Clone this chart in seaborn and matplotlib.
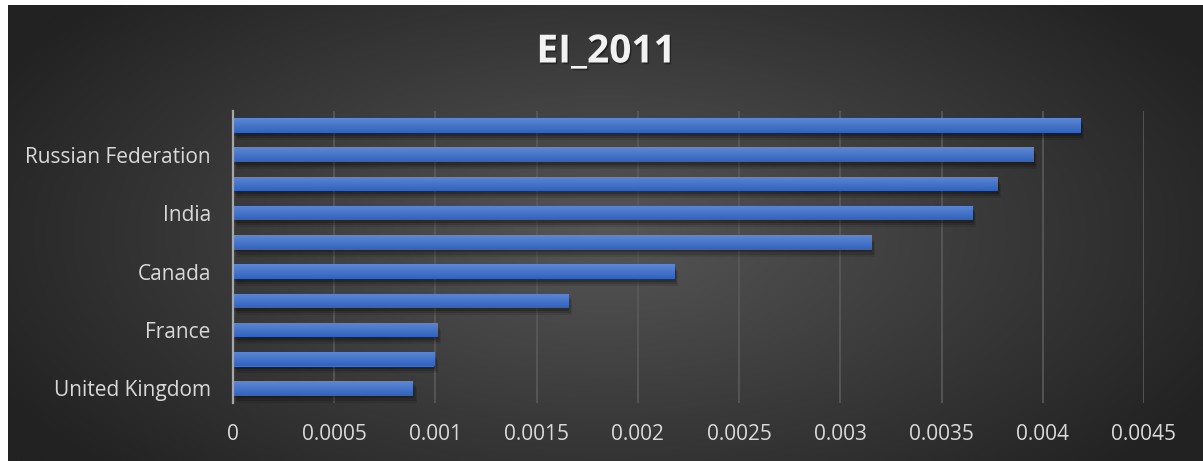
import numpy as np
import pandas as pd
import matplotlib
matplotlib.use("Agg")
import matplotlib.pyplot as plt
import matplotlib.patheffects as pe
import seaborn as sns

# Energy intensity, 2011 (top to bottom)
countries = ["China", "Russian Federation", "United States", "India", "Korea",
             "Canada", "Japan", "France", "Germany", "United Kingdom"]
ei_2011 = [0.004185, 0.003953, 0.003775, 0.003651, 0.003152,
           0.002179, 0.001655, 0.001008, 0.000993, 0.000889]
shown_labels = ["", "Russian Federation", "", "India", "",
                "Canada", "", "France", "", "United Kingdom"]
x_ticks = [0, 0.0005, 0.001, 0.0015, 0.002, 0.0025, 0.003, 0.0035, 0.004, 0.0045]
x_tick_labels = ["0", "0.0005", "0.001", "0.0015", "0.002", "0.0025",
                 "0.003", "0.0035", "0.004", "0.0045"]

df = pd.DataFrame({"country": countries, "ei": ei_2011})

sns.set_theme(style="white")
plt.rcParams["font.family"] = ["Open Sans", "DejaVu Sans"]

W, H = 1203, 461
fig = plt.figure(figsize=(W / 100, H / 100), dpi=100)
fig.patch.set_facecolor("white")

# dark radial backdrop
bg = fig.add_axes([8 / W, 0, (W - 8) / W, (H - 5) / H])
bg.set_axis_off()
yy, xx = np.mgrid[0:200, 0:500]
cx, cy = 250, 100
r = np.sqrt(((xx - cx) / 290) ** 2 + ((yy - cy) / 150) ** 2)
r = np.clip(r, 0, 1)
light = np.array([0x56, 0x56, 0x56]) / 255
dark = np.array([0x22, 0x22, 0x22]) / 255
img = light[None, None, :] * (1 - r[..., None]) + dark[None, None, :] * r[..., None]
bg.imshow(img, aspect="auto", extent=[0, 1, 0, 1], interpolation="bicubic")
bg.set_xlim(0, 1)
bg.set_ylim(0, 1)

left, right = 233, 1144
top, bottom = 111, 403
ax = fig.add_axes([left / W, (H - bottom) / H, (right - left) / W, (bottom - top) / H])
ax.patch.set_alpha(0)

sns.barplot(data=df, x="ei", y="country", orient="h", width=0.5,
            color="#4472C4", ax=ax, zorder=3, saturation=1,
            edgecolor="none", linewidth=0)

# gradient fill and soft drop shadow on each bar
grad = np.linspace(0, 1, 64)[:, None]
top_c = np.array([0x5E, 0x88, 0xD4]) / 255
bot_c = np.array([0x30, 0x62, 0xBE]) / 255
gimg = top_c[None, None, :] * (1 - grad[..., None]) + bot_c[None, None, :] * grad[..., None]
gimg = np.repeat(gimg, 2, axis=1)
for p in ax.patches:
    p.set_edgecolor("none")
    p.set_linewidth(0)
    p.set_path_effects([
        pe.SimplePatchShadow(offset=(3, -5), shadow_rgbFace="black", alpha=0.1),
        pe.SimplePatchShadow(offset=(2, -3.5), shadow_rgbFace="black", alpha=0.15),
        pe.SimplePatchShadow(offset=(1, -2), shadow_rgbFace="black", alpha=0.2),
        pe.Normal(),
    ])
    x0, y0 = p.get_x(), p.get_y()
    w, h = p.get_width(), p.get_height()
    im = ax.imshow(gimg, extent=[x0, x0 + w, y0 + h, y0], aspect="auto",
                   zorder=4, interpolation="bilinear")
    im.set_clip_path(p)

ax.set_xlim(0, 0.0045)
ax.set_ylim(9.5, -0.5)
ax.set_xticks(x_ticks)
ax.set_xticklabels(x_tick_labels)
ax.set_yticks(range(len(countries)))
ax.set_yticklabels(shown_labels)
ax.set_xlabel("")
ax.set_ylabel("")

ax.grid(axis="x", color="#5a5a5a", linewidth=1.2, zorder=0)
ax.grid(axis="y", visible=False)
for s in ["top", "right", "bottom"]:
    ax.spines[s].set_visible(False)
ax.spines["left"].set_color("#a6a6a6")
ax.spines["left"].set_linewidth(1.6)
ax.spines["left"].set_zorder(5)

ax.tick_params(axis="both", length=0, colors="#d9d9d9", labelsize=15)
ax.tick_params(axis="y", pad=16)
ax.tick_params(axis="x", pad=15)

fig.text(606 / W, 1 - 52 / H, "EI_2011", ha="center", va="center",
         fontsize=28, fontweight="bold", color="#f2f2f2",
         family=["Open Sans", "DejaVu Sans"],
         path_effects=[pe.withSimplePatchShadow(offset=(1, -1.2),
                                                shadow_rgbFace="black", alpha=0.4)])

fig.savefig("out.png", dpi=100, facecolor=fig.get_facecolor())
